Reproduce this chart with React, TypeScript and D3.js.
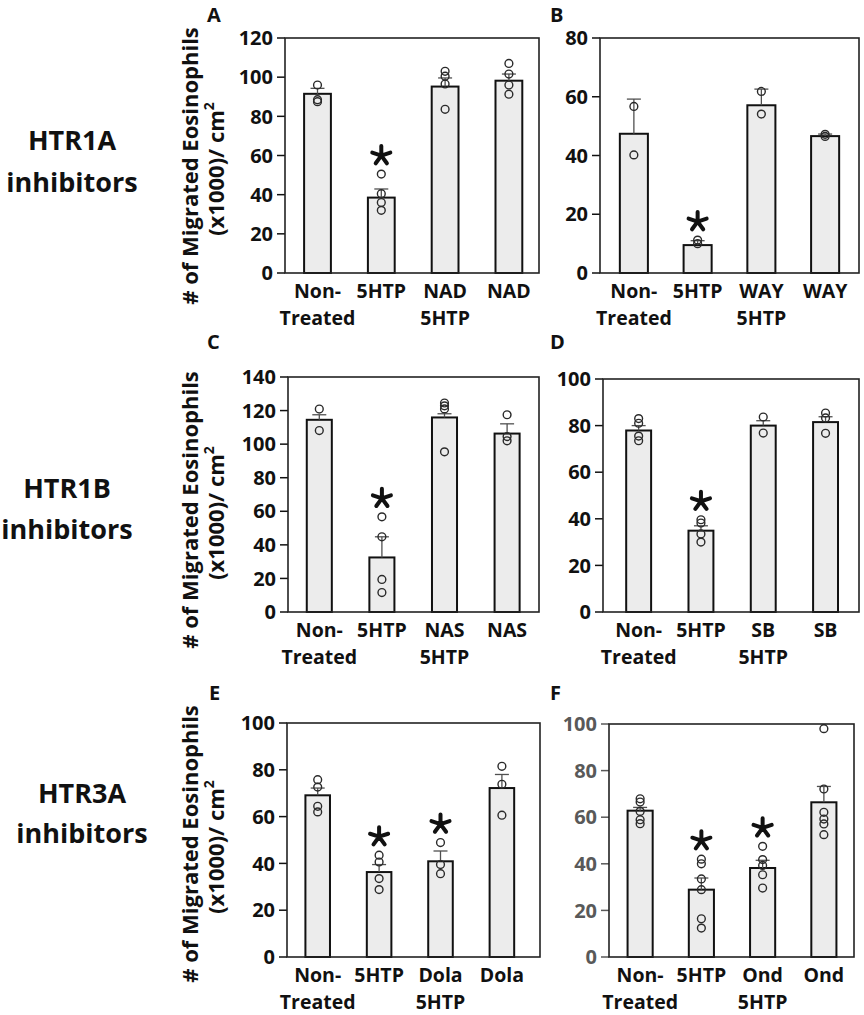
import React from "react";
import * as d3 from "d3";

// ---------- DATA ----------
const labelsA = [["Non-", "Treated"], ["5HTP"], ["NAD", "5HTP"], ["NAD"]];
const meansA = [91.5, 38.5, 95.2, 98.2];
const semA = [2.8, 4.4, 4.4, 3.4];
const pointsA = [[96, 88.5, 87.5], [50.5, 40.5, 36, 32], [103, 100.5, 96.5, 83.6], [107, 101.6, 96, 91.3]];
const sigA = [false, true, false, false];
const ticksA = [0, 20, 40, 60, 80, 100, 120];

const labelsB = [["Non-", "Treated"], ["5HTP"], ["WAY", "5HTP"], ["WAY"]];
const meansB = [47.4, 9.5, 57.1, 46.6];
const semB = [11.8, 1.5, 5.5, 0.7];
const pointsB = [[56.7, 40.2], [11.2, 10], [61.8, 54.1], [47.2, 46.5]];
const sigB = [false, true, false, false];
const ticksB = [0, 20, 40, 60, 80];

const labelsC = [["Non-", "Treated"], ["5HTP"], ["NAS", "5HTP"], ["NAS"]];
const meansC = [114.5, 32.5, 115.9, 106.3];
const semC = [3, 12.3, 2.2, 5.8];
const pointsC = [[120.9, 108.1], [56.7, 44.8, 19.4, 11.6], [124.5, 122.8, 121, 95.4], [117.5, 104.5, 102]];
const sigC = [false, true, false, false];
const ticksC = [0, 20, 40, 60, 80, 100, 120, 140];

const labelsD = [["Non-", "Treated"], ["5HTP"], ["SB", "5HTP"], ["SB"]];
const meansD = [77.9, 34.9, 80, 81.5];
const semD = [2.1, 2.1, 2.1, 2.3];
const pointsD = [[83, 81, 75.5, 73.5], [39.6, 38.2, 33.5, 30], [83.7, 76.8], [85.4, 83.3, 76.7]];
const sigD = [false, true, false, false];
const ticksD = [0, 20, 40, 60, 80, 100];

const labelsE = [["Non-", "Treated"], ["5HTP"], ["Dola", "5HTP"], ["Dola"]];
const meansE = [69.1, 36.3, 40.9, 72.2];
const semE = [3.1, 3.2, 4.4, 5.8];
const pointsE = [[75.8, 72.6, 64.4, 62], [43.5, 40.6, 33.5, 28.8], [48.9, 39.5, 35.6], [81.5, 73.8, 60.6]];
const sigE = [false, true, true, false];
const ticksE = [0, 20, 40, 60, 80, 100];

const labelsF = [["Non-", "Treated"], ["5HTP"], ["Ond", "5HTP"], ["Ond"]];
const meansF = [62.8, 28.9, 38.2, 66.4];
const semF = [1.4, 5, 3.3, 6.8];
const pointsF = [[67.9, 66.5, 62.5, 58.9, 57.2], [42, 40, 33.5, 28.9, 16.4, 12.4], [47.5, 41.8, 39.3, 35.3, 29.6], [98, 72.1, 62.1, 59.2, 57.1, 52.5]];
const sigF = [false, true, true, false];
const ticksF = [0, 20, 40, 60, 80, 100];

const rowLabels = [["HTR1A", "inhibitors"], ["HTR1B", "inhibitors"], ["HTR3A", "inhibitors"]];
const yTitle1 = "# of Migrated Eosinophils";
const yTitle2 = "(x1000)/ cm";

// ---------- LAYOUT ----------
const FONT = "'Open Sans', 'DejaVu Sans', sans-serif";

type Panel = {
  letter: string;
  labels: string[][];
  means: number[];
  sem: number[];
  points: number[][];
  sig: boolean[];
  ticks: number[];
  frame: [number, number, number, number];
  band: [number, number];
  pad: number;
  letterPos: [number, number];
  tickColor: string;
};

const panels: Panel[] = [
  { letter: "A", labels: labelsA, means: meansA, sem: semA, points: pointsA, sig: sigA, ticks: ticksA,
    frame: [285, 38, 539, 273], band: [285.6, 540.8], pad: 0.58, letterPos: [207, 22], tickColor: "#111" },
  { letter: "B", labels: labelsB, means: meansB, sem: semB, points: pointsB, sig: sigB, ticks: ticksB,
    frame: [600, 38, 859, 273], band: [602, 857], pad: 0.56, letterPos: [550, 22], tickColor: "#111" },
  { letter: "C", labels: labelsC, means: meansC, sem: semC, points: pointsC, sig: sigC, ticks: ticksC,
    frame: [288, 377, 539, 612], band: [288, 538.4], pad: 0.6, letterPos: [207, 349], tickColor: "#111" },
  { letter: "D", labels: labelsD, means: meansD, sem: semD, points: pointsD, sig: sigD, ticks: ticksD,
    frame: [603, 379, 859, 612], band: [607.5, 856.7], pad: 0.6, letterPos: [550, 349], tickColor: "#111" },
  { letter: "E", labels: labelsE, means: meansE, sem: semE, points: pointsE, sig: sigE, ticks: ticksE,
    frame: [287, 723, 540, 957], band: [287, 532.6], pad: 0.6, letterPos: [209, 700], tickColor: "#111" },
  { letter: "F", labels: labelsF, means: meansF, sem: semF, points: pointsF, sig: sigF, ticks: ticksF,
    frame: [609, 724, 854, 957], band: [609.5, 854.5], pad: 0.59, letterPos: [550, 700], tickColor: "#595959" },
];

const rowLayout = [
  { cx: 72, b1: 150, b2: 192, titleY: 166 },
  { cx: 67, b1: 498, b2: 539, titleY: 510 },
  { cx: 82, b1: 803, b2: 843, titleY: 844 },
];

function asteriskPath(cx: number, cy: number, r: number) {
  const p = d3.path();
  for (let k = 0; k < 5; k++) {
    const a = (-90 + k * 72) * Math.PI / 180;
    p.moveTo(cx, cy);
    p.lineTo(cx + r * Math.cos(a), cy + r * Math.sin(a));
  }
  return p.toString();
}

function PanelView({ p }: { p: Panel }) {
  const [x0, y0, x1, y1] = p.frame;
  const yMax = p.ticks[p.ticks.length - 1];
  const y = d3.scaleLinear().domain([0, yMax]).range([y1, y0]);
  const x = d3.scaleBand<number>()
    .domain(p.means.map((_, i) => i))
    .range(p.band)
    .paddingInner(p.pad)
    .paddingOuter(p.pad / 2);
  const bw = x.bandwidth();
  return (
    <g>
      <text x={p.letterPos[0]} y={p.letterPos[1]} fontFamily={FONT} fontWeight={700} fontSize={20} fill="#111">{p.letter}</text>
      {p.ticks.map((t) => (
        <g key={t}>
          <line x1={x0 - 8} x2={x0} y1={y(t)} y2={y(t)} stroke={p.tickColor} strokeWidth={1.5} />
          <text x={x0 - 12} y={y(t)} dy="0.36em" textAnchor="end" fontFamily={FONT} fontWeight={700} fontSize={20} fill={p.tickColor}>{t}</text>
        </g>
      ))}
      {p.means.map((m, i) => (
        <rect key={"b" + i} x={x(i)!} width={bw} y={y(m)} height={y(0) - y(m)} fill="#ececec" stroke="#111" strokeWidth={2} />
      ))}
      {p.means.map((m, i) => {
        const cx = x(i)! + bw / 2;
        return (
          <g key={"e" + i} stroke="#505050" strokeWidth={1.3}>
            <line x1={cx} x2={cx} y1={y(m)} y2={y(m + p.sem[i])} />
            <line x1={cx - 7} x2={cx + 7} y1={y(m + p.sem[i])} y2={y(m + p.sem[i])} />
          </g>
        );
      })}
      {p.points.map((pts, i) =>
        pts.map((v, j) => (
          <circle key={"p" + i + "-" + j} cx={x(i)! + bw / 2} cy={y(v)} r={3.9} fill="none" stroke="#2a2a2a" strokeWidth={1.4} />
        ))
      )}
      {p.sig.map((s, i) => {
        if (!s) return null;
        const top = Math.max(...p.points[i], p.means[i] + p.sem[i]);
        const cx = x(i)! + bw / 2;
        return <path key={"s" + i} d={asteriskPath(cx, y(top) - 18.5, 9.5)} stroke="#111" strokeWidth={4} strokeLinecap="round" fill="none" />;
      })}
      <rect x={x0} y={y0} width={x1 - x0} height={y1 - y0} fill="none" stroke="#222" strokeWidth={1.6} />
      {p.labels.map((ls, i) => (
        <text key={"l" + i} textAnchor="middle" fontFamily={FONT} fontWeight={700} fontSize={19.5} fill="#111">
          {ls.map((l, k) => (
            <tspan key={k} x={x(i)! + bw / 2} y={y1 + 24.5 + k * 27.5}>{l}</tspan>
          ))}
        </text>
      ))}
    </g>
  );
}

export default function App() {
  return (
    <svg width={864} height={1015} viewBox="0 0 864 1015" style={{ position: "absolute", left: 0, top: 0, background: "#fff" }}>
      <rect x={0} y={0} width={864} height={1015} fill="#fff" />
      {rowLayout.map((r, i) => (
        <g key={"row" + i}>
          <text textAnchor="middle" fontFamily={FONT} fontWeight={700} fontSize={27} fill="#111">
            <tspan x={r.cx} y={r.b1}>{rowLabels[i][0]}</tspan>
            <tspan x={r.cx} y={r.b2}>{rowLabels[i][1]}</tspan>
          </text>
          <g transform={`translate(198,${r.titleY}) rotate(-90)`}>
            <text x={0} y={0} textAnchor="middle" fontFamily={FONT} fontWeight={700} fontSize={22} fill="#111">{yTitle1}</text>
          </g>
          <g transform={`translate(224,${r.titleY + 3}) rotate(-90)`}>
            <text x={0} y={0} textAnchor="middle" fontFamily={FONT} fontWeight={700} fontSize={22} fill="#111">
              {yTitle2}
              <tspan fontSize={14} dy={-10}>2</tspan>
            </text>
          </g>
        </g>
      ))}
      {panels.map((p) => (
        <PanelView key={p.letter} p={p} />
      ))}
    </svg>
  );
}
